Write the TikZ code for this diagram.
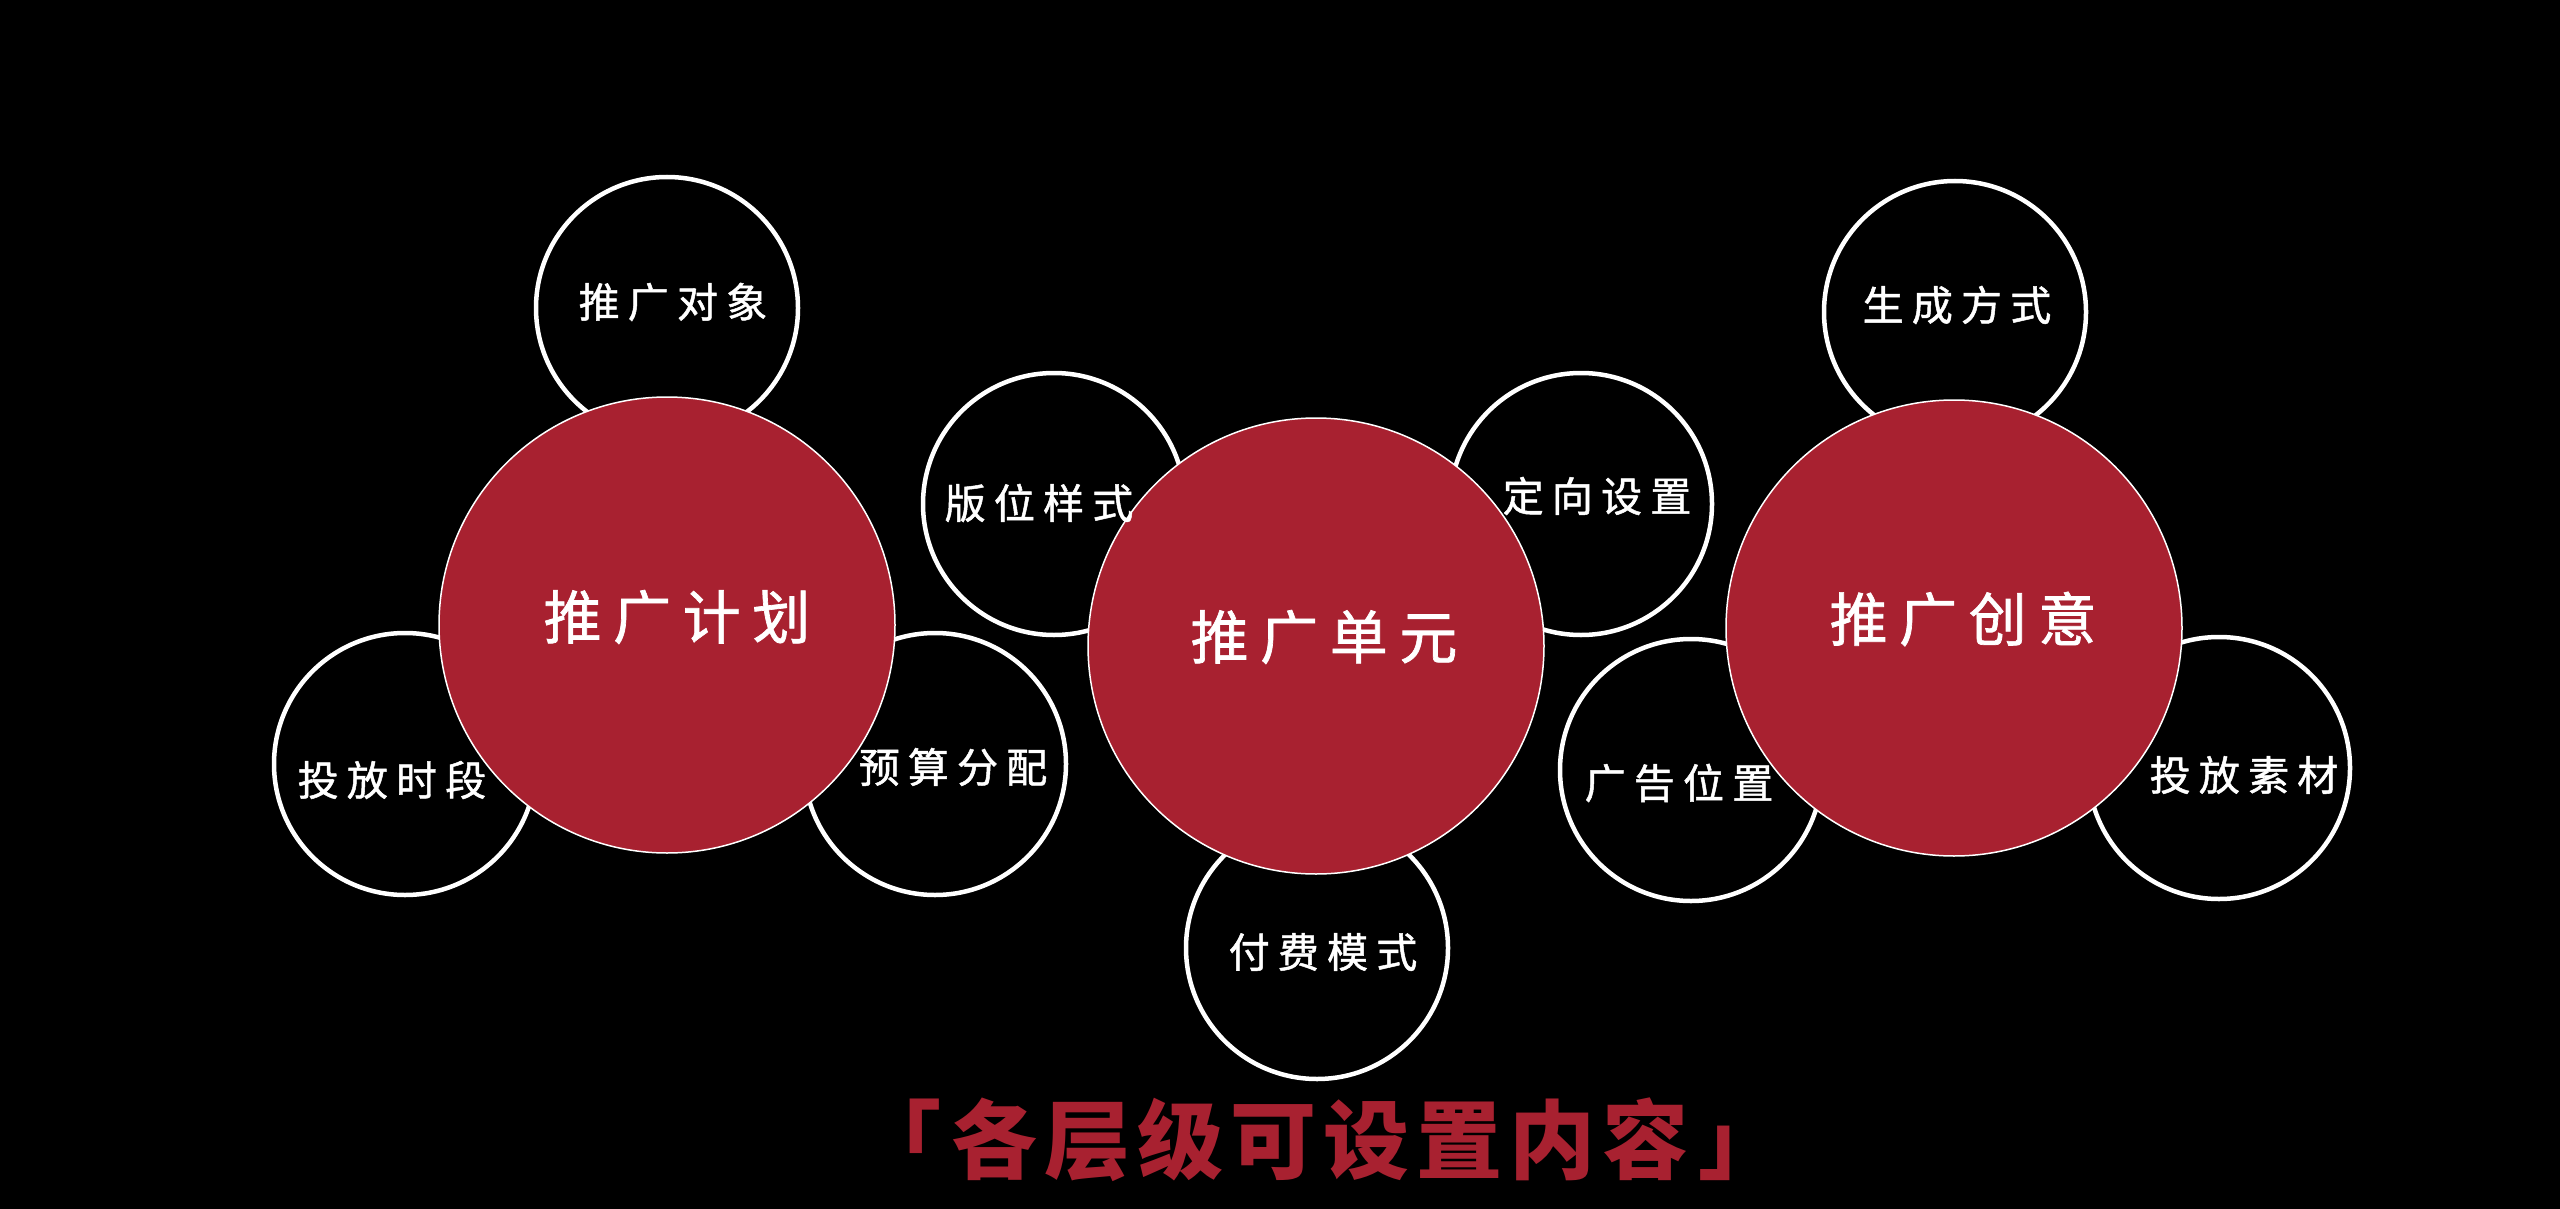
\documentclass[tikz,border=0pt]{standalone}
\usepackage{fontspec}
\newfontfamily\cjk[LetterSpace=20,FakeBold=1.2]{Noto Sans CJK SC}
\newfontfamily\cjktitle[LetterSpace=8]{Noto Sans CJK SC}
\usetikzlibrary{positioning}
\definecolor{planred}{HTML}{A82130}
\tikzset{
  sub/.style={circle, draw=white, line width=4.5pt, minimum size=262pt, inner sep=0pt},
  main/.style={circle, fill=planred, draw=white, line width=1.5pt, minimum size=456pt, inner sep=0pt},
  subtext/.style={text=white, inner sep=0pt, font=\cjk\fontsize{41}{41}\selectfont},
  maintext/.style={text=white, inner sep=0pt, font=\cjk\fontsize{58}{58}\selectfont},
  titletext/.style={text=planred, inner sep=0pt, font=\cjktitle\bfseries\fontsize{86}{86}\selectfont}
}
\begin{document}
\begin{tikzpicture}[x=1pt,y=-1pt]
  \fill[black] (0,0) rectangle (2560,1209);
  \useasboundingbox (0,0) rectangle (2560,1209);
  % small circles
  \foreach \n/\x/\y in {obj/667/308, time/405/764, budget/935/764,
                        style/1054/504, pay/1317/948, target/1581/504,
                        place/1691/770, gen/1955/312, media/2219/768}
    \node[sub] (\n) at (\x,\y) {};
  % levels
  \node[main] (plan) at (667,625) {};
  \node[main] (unit) at (1316,646) {};
  \node[main] (idea) at (1954,628) {};
  % texts
  \foreach \n/\x/\y/\t in {obj/673/302/推广对象, time/392/780/投放时段,
                           budget/953/767/预算分配, style/1039/503/版位样式,
                           pay/1323/952/付费模式, target/1597/496/定向设置,
                           place/1679/783/广告位置, gen/1957/305/生成方式,
                           media/2244/775/投放素材}
    \node[subtext] (\n-t) at (\x,\y) {\t};
  \node[maintext] (plan-t) at (677,617) {推广计划};
  \node[maintext] (unit-t) at (1324,637) {推广单元};
  \node[maintext] (idea-t) at (1963,619) {推广创意};
  \node[titletext] (title) at (1320,1140) {「\kern10pt 各层级可设置内容\kern10pt 」};
\end{tikzpicture}
\end{document}
